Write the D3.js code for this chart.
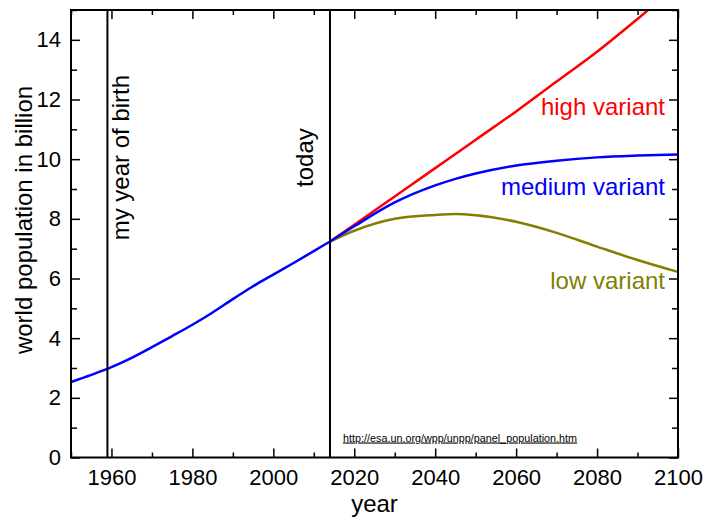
<!DOCTYPE html>
<html>
<head>
<meta charset="utf-8">
<script src="https://cdn.jsdelivr.net/npm/d3@7"></script>
<style>
  body { margin: 0; background: #fff; }
  text { font-family: "Liberation Sans", Arial, sans-serif; }
</style>
</head>
<body>
<div id="chart"></div>
<script>
// historical estimates
const histYears = [1950, 1955, 1960, 1965, 1970, 1975, 1980, 1985, 1990, 1995, 2000, 2005, 2010, 2014];
const histPop = [2.53, 2.77, 3.03, 3.34, 3.70, 4.07, 4.45, 4.86, 5.31, 5.74, 6.13, 6.52, 6.92, 7.24];

// projections
const projYears = [2014, 2020, 2030, 2040, 2045, 2050, 2060, 2070, 2080, 2090, 2100];
const highPop = [7.24, 7.80, 8.75, 9.70, 10.17, 10.65, 11.60, 12.60, 13.60, 14.70, 15.85];
const mediumPop = [7.24, 7.75, 8.55, 9.12, 9.34, 9.52, 9.79, 9.95, 10.06, 10.12, 10.16];
const lowPop = [7.24, 7.60, 8.00, 8.13, 8.16, 8.12, 7.90, 7.53, 7.07, 6.62, 6.22];

const markers = [
  { year: 1959, label: "my year of birth" },
  { year: 2014, label: "today" }
];

const xTicks = [1960, 1980, 2000, 2020, 2040, 2060, 2080, 2100];
const yTicks = [0, 2, 4, 6, 8, 10, 12, 14];

const margin = { top: 10, right: 30, bottom: 62.5, left: 71 };
const width = 708 - margin.left - margin.right;
const height = 520 - margin.top - margin.bottom;

const svg = d3.select("#chart")
  .append("svg")
  .attr("width", 708)
  .attr("height", 520)
  .append("g")
  .attr("transform", `translate(${margin.left}, ${margin.top})`);

const x = d3.scaleLinear().domain([1950, 2100]).range([0, width]);
const y = d3.scaleLinear().domain([0, 15]).range([height, 0]);

svg.append("clipPath")
  .attr("id", "clip")
  .append("rect")
  .attr("width", width)
  .attr("height", height);

const line = (years) => d3.line()
  .x((d, i) => x(years[i]))
  .y((d) => y(d))
  .curve(d3.curveMonotoneX);

const plot = svg.append("g").attr("clip-path", "url(#clip)");

const series = [
  { values: highPop, color: "#ff0000" },
  { values: lowPop, color: "#808000" },
  { values: mediumPop, color: "#0000ff" }
];

series.forEach((s) => {
  plot.append("path")
    .datum(s.values)
    .attr("d", line(projYears))
    .attr("fill", "none")
    .attr("stroke", s.color)
    .attr("stroke-width", 2.5);
});

plot.append("path")
  .datum(histPop)
  .attr("d", line(histYears))
  .attr("fill", "none")
  .attr("stroke", "#0000ff")
  .attr("stroke-width", 2.5);

// marker lines
svg.selectAll(".marker")
  .data(markers)
  .enter()
  .append("line")
  .attr("x1", (d) => x(d.year))
  .attr("x2", (d) => x(d.year))
  .attr("y1", 0)
  .attr("y2", height)
  .attr("stroke", "black")
  .attr("stroke-width", 2);

svg.append("text")
  .attr("transform", `translate(${x(1959) + 22}, ${y(7.28)}) rotate(-90)`)
  .style("font-size", "24px")
  .text("my year of birth");

svg.append("text")
  .attr("transform", `translate(${x(2014) - 17}, ${y(9.07)}) rotate(-90)`)
  .style("font-size", "24px")
  .text("today");

// axes, ticks pointing inward
const minorX = d3.range(1950, 2101, 10).filter((v) => v % 20 !== 0);
const minorY = d3.range(1, 16, 2);

const styleAxis = (g) => {
  g.select(".domain").remove();
  g.selectAll(".tick line").attr("stroke-width", 1.5);
  g.selectAll("text").style("font-size", "22px").attr("fill", "black");
};

svg.append("g")
  .attr("transform", `translate(0, ${height})`)
  .call(d3.axisBottom(x).tickValues(xTicks).tickFormat(d3.format("d")).tickSize(-9).tickPadding(12))
  .call(styleAxis);
svg.append("g")
  .attr("transform", `translate(0, ${height})`)
  .call(d3.axisBottom(x).tickValues(minorX).tickFormat("").tickSize(-5))
  .call(styleAxis);

svg.append("g")
  .call(d3.axisTop(x).tickValues(xTicks).tickFormat("").tickSize(-9))
  .call(styleAxis);
svg.append("g")
  .call(d3.axisTop(x).tickValues(minorX).tickFormat("").tickSize(-5))
  .call(styleAxis);

svg.append("g")
  .call(d3.axisLeft(y).tickValues(yTicks).tickSize(-9).tickPadding(10))
  .call(styleAxis);
svg.append("g")
  .call(d3.axisLeft(y).tickValues(minorY).tickFormat("").tickSize(-6))
  .call(styleAxis);

svg.append("g")
  .attr("transform", `translate(${width}, 0)`)
  .call(d3.axisRight(y).tickValues(yTicks).tickFormat("").tickSize(-9))
  .call(styleAxis);
svg.append("g")
  .attr("transform", `translate(${width}, 0)`)
  .call(d3.axisRight(y).tickValues(minorY).tickFormat("").tickSize(-6))
  .call(styleAxis);

// frame
svg.append("rect")
  .attr("width", width)
  .attr("height", height)
  .attr("fill", "none")
  .attr("stroke", "black")
  .attr("stroke-width", 2);

// series labels
const labels = [
  { text: "high variant", value: 11.48, color: "#ff0000" },
  { text: "medium variant", value: 8.8, color: "#0000ff" },
  { text: "low variant", value: 5.65, color: "#808000" }
];

svg.selectAll(".label")
  .data(labels)
  .enter()
  .append("text")
  .attr("x", width - 13)
  .attr("y", (d) => y(d.value))
  .attr("text-anchor", "end")
  .attr("fill", (d) => d.color)
  .style("font-size", "24px")
  .text((d) => d.text);

svg.append("text")
  .attr("x", x(2014) + 13)
  .attr("y", height - 16)
  .style("font-size", "10.8px")
  .style("text-decoration", "underline")
  .text("http://esa.un.org/wpp/unpp/panel_population.htm");

// axis titles
svg.append("text")
  .attr("x", width / 2)
  .attr("y", height + 54)
  .attr("text-anchor", "middle")
  .style("font-size", "24px")
  .text("year");

svg.append("text")
  .attr("transform", "rotate(-90)")
  .attr("x", -210)
  .attr("y", -39)
  .attr("text-anchor", "middle")
  .style("font-size", "24px")
  .text("world population in billion");
</script>
</body>
</html>
